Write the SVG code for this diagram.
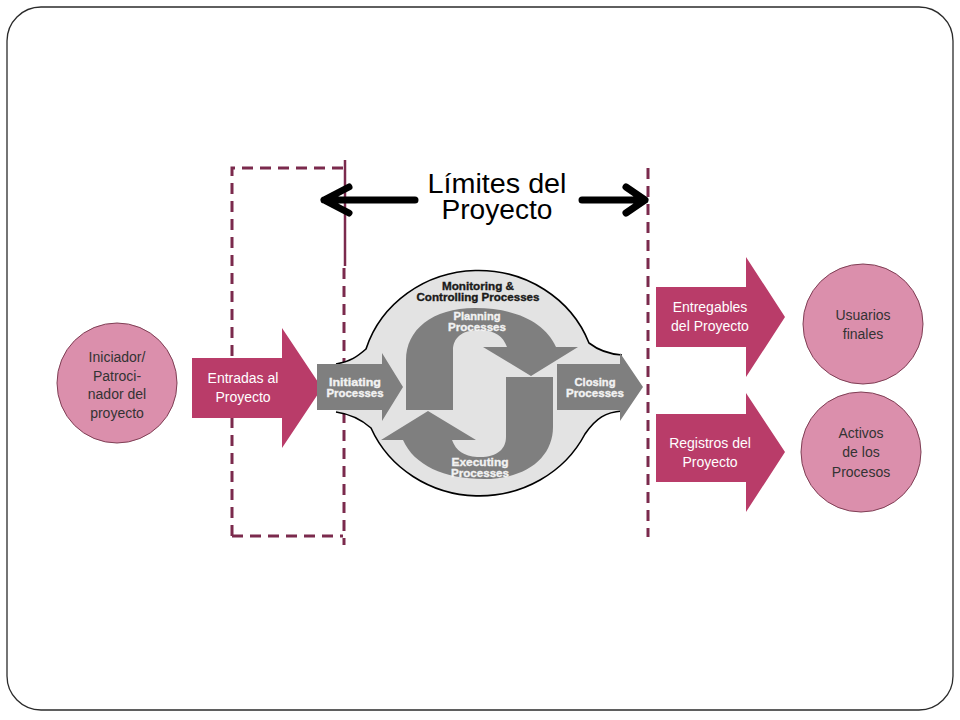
<svg xmlns="http://www.w3.org/2000/svg" width="960" height="720" viewBox="0 0 960 720">
<style>
.frame{fill:#fff;stroke:#2b2b2b;stroke-width:1.3}
.dash{fill:none;stroke:#7b2a4d;stroke-width:3;stroke-dasharray:11 7}
.solid{fill:none;stroke:#7b2a4d;stroke-width:2.5}
.blk{fill:none;stroke:#000;stroke-width:7;stroke-linecap:round;stroke-linejoin:round}
.pinkarrow{fill:#b93c69}
.circ{fill:#db8fac;stroke:#7f3f55;stroke-width:1}
.wt{font-family:"Liberation Sans",Arial,sans-serif;font-size:14px;fill:#fff;text-anchor:middle}
.ct{font-family:"Liberation Sans",Arial,sans-serif;font-size:14px;fill:#333;text-anchor:middle}
.big{font-family:"Liberation Sans",Arial,sans-serif;font-size:27px;fill:#000;text-anchor:middle}
.grey{fill:#7f7f7f}
.gt{font-family:"Liberation Sans",Arial,sans-serif;font-size:11px;font-weight:bold;fill:#f2f2f2;stroke:#f2f2f2;stroke-width:0.35;text-anchor:middle}
.dt{font-family:"Liberation Sans",Arial,sans-serif;font-size:11px;font-weight:bold;fill:#1a1a1a;stroke:#1a1a1a;stroke-width:0.35;text-anchor:middle}
</style>

<rect class="frame" x="7" y="7" width="946" height="703" rx="34" ry="34"/>

<g id="boundaries">
  <path class="dash" d="M 232,536 L 232,168 L 343,168"/>
  <path class="dash" d="M 232,536 L 343,536"/>
  <path class="dash" d="M 344,268 L 344,545"/>
  <line class="solid" x1="345" y1="160" x2="345" y2="266"/>
  <line class="dash" x1="648" y1="168" x2="648" y2="537"/>
</g>

<g id="limits">
  <path class="blk" d="M 415,200 L 324,200 M 349,187 L 324,200 L 349,213"/>
  <path class="blk" d="M 582,200 L 645,200 M 626,187 L 645,200 L 626,213"/>
  <text class="big" x="497" y="193" textLength="139" lengthAdjust="spacingAndGlyphs">Límites del</text>
  <text class="big" x="497" y="219" textLength="111" lengthAdjust="spacingAndGlyphs">Proyecto</text>
</g>

<g id="iniciador">
  <circle class="circ" cx="117" cy="383" r="60"/>
  <text class="ct" x="117" y="362">Iniciador/</text>
  <text class="ct" x="117" y="380.5">Patroci-</text>
  <text class="ct" x="117" y="399">nador del</text>
  <text class="ct" x="117" y="417.5">proyecto</text>
</g>

<g id="entradas">
  <polygon class="pinkarrow" points="192,358 282,358 282,328 322,388 282,448 282,418 192,418"/>
  <text class="wt" x="243" y="383">Entradas al</text>
  <text class="wt" x="243" y="402">Proyecto</text>
</g>

<g id="process-groups">
  <path fill="#e3e3e3" d="M 336,364 C 350,362 358,356 366,349 A 118 112 0 0 1 589,343 C 598,350 607,354 622,355 L 622,411 C 606,412 596,418 585,434 A 118 112 0 0 1 371,428 C 362,420 350,414 336,412 Z"/>
  <path fill="none" stroke="#000" stroke-width="1.6" d="M 336,364 C 350,362 358,356 366,349 A 118 112 0 0 1 589,343 C 598,350 607,354 622,355 M 622,411 C 606,412 596,418 585,434 A 118 112 0 0 1 371,428 C 362,420 350,414 336,412"/>
  <text class="dt" x="478" y="290" textLength="72" lengthAdjust="spacingAndGlyphs">Monitoring &amp;</text>
  <text class="dt" x="478" y="301" textLength="123" lengthAdjust="spacingAndGlyphs">Controlling Processes</text>

  <g id="planning">
    <path class="grey" d="M 406,410 L 406,360 C 406,330 432,308 475,308 C 515,308 545,322 556,347 L 578,347 L 531,376 L 483,347 L 507,347 C 503,336 495,331 482,330 C 462,329 453,338 453,350 L 453,410 Z"/>
    <text class="gt" x="477" y="320" textLength="47" lengthAdjust="spacingAndGlyphs">Planning</text>
    <text class="gt" x="477" y="331" textLength="58" lengthAdjust="spacingAndGlyphs">Processes</text>
  </g>
  <g id="executing">
    <path class="grey" transform="rotate(180 479.5 393.5)" d="M 406,410 L 406,360 C 406,330 432,308 475,308 C 515,308 545,322 556,347 L 578,347 L 531,376 L 483,347 L 507,347 C 503,336 495,331 482,330 C 462,329 453,338 453,350 L 453,410 Z"/>
    <text class="gt" x="480" y="466" textLength="57" lengthAdjust="spacingAndGlyphs">Executing</text>
    <text class="gt" x="480" y="477" textLength="58" lengthAdjust="spacingAndGlyphs">Processes</text>
  </g>
  <g id="initiating">
    <polygon class="grey" points="317,364 382,364 382,353 403,387 382,421 382,410 317,410"/>
    <text class="gt" x="355" y="386" textLength="52" lengthAdjust="spacingAndGlyphs">Initiating</text>
    <text class="gt" x="355" y="397" textLength="57" lengthAdjust="spacingAndGlyphs">Processes</text>
  </g>
  <g id="closing">
    <polygon class="grey" points="557,364 620,364 620,353 643,387 620,421 620,410 557,410"/>
    <text class="gt" x="595" y="386" textLength="41" lengthAdjust="spacingAndGlyphs">Closing</text>
    <text class="gt" x="595" y="397" textLength="58" lengthAdjust="spacingAndGlyphs">Processes</text>
  </g>
</g>

<g id="entregables">
  <polygon class="pinkarrow" points="656,287 746,287 746,257 785,317 746,377 746,347 656,347"/>
  <text class="wt" x="710" y="312">Entregables</text>
  <text class="wt" x="710" y="331">del Proyecto</text>
</g>

<g id="registros">
  <polygon class="pinkarrow" points="656,414 746,414 746,393 785,452 746,512 746,482 656,482"/>
  <text class="wt" x="710" y="448">Registros del</text>
  <text class="wt" x="710" y="467">Proyecto</text>
</g>

<g id="usuarios">
  <circle class="circ" cx="863" cy="324" r="60"/>
  <text class="ct" x="863" y="320">Usuarios</text>
  <text class="ct" x="863" y="339">finales</text>
</g>

<g id="activos">
  <circle class="circ" cx="861" cy="452" r="60"/>
  <text class="ct" x="861" y="438">Activos</text>
  <text class="ct" x="861" y="457">de los</text>
  <text class="ct" x="861" y="477">Procesos</text>
</g>
</svg>
